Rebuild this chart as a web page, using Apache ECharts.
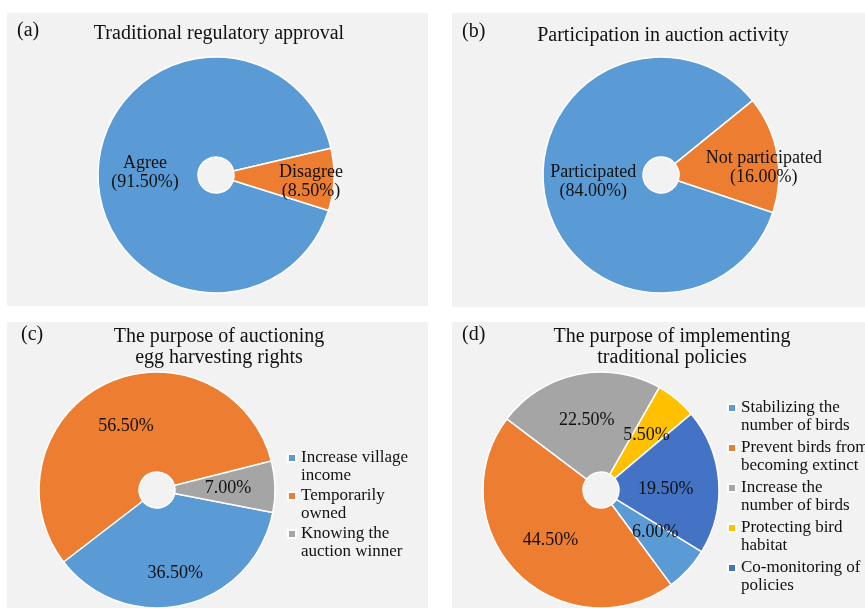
<!DOCTYPE html>
<html>
<head>
<meta charset="utf-8">
<script src="https://cdn.jsdelivr.net/npm/echarts@6/dist/echarts.min.js"></script>
<style>
  html, body { margin: 0; padding: 0; background: #fff; }
  #chart { width: 865px; height: 608px; }
</style>
</head>
<body>
<div id="chart"></div>
<script>
// (a) Traditional regulatory approval
var approvalNames = ['Agree', 'Disagree'];
var approvalValues = [91.5, 8.5];
// (b) Participation in auction activity
var auctionNames = ['Participated', 'Not participated'];
var auctionValues = [84.0, 16.0];
// (c) The purpose of auctioning egg harvesting rights
var rightsNames = ['Increase village\nincome', 'Temporarily\nowned', 'Knowing the\nauction winner'];
var rightsValues = [36.5, 56.5, 7.0];
// (d) The purpose of implementing traditional policies
var policyNames = ['Stabilizing the\nnumber of birds', 'Prevent birds from\nbecoming extinct',
    'Increase the\nnumber of birds', 'Protecting bird\nhabitat', 'Co-monitoring of\npolicies'];
var policyValues = [6.0, 44.5, 22.5, 5.5, 19.5];

var colors2 = ['#5B9BD5', '#ED7D31'];
var colors3 = ['#5B9BD5', '#ED7D31', '#A5A5A5'];
var colors5 = ['#5B9BD5', '#ED7D31', '#A5A5A5', '#FFC000', '#4472C4'];

var FONT = '"Liberation Serif", "Times New Roman", serif';
var INK = '#111';

function toData(names, values, colors) {
    var out = [];
    for (var i = 0; i < names.length; i++) {
        out.push({ name: names[i], value: values[i], itemStyle: { color: colors[i] } });
    }
    return out;
}

function nameAndPct(p) { return p.name + '\n(' + p.value.toFixed(2) + '%)'; }
function pctOnly(p) { return p.value.toFixed(2) + '%'; }

// small nudges so labels sit where the original put them
function nudge(offsets) {
    return function (p) {
        var o = offsets[p.dataIndex];
        return o ? { dx: o[0], dy: o[1] } : {};
    };
}

function pie(center, startAngle, data, formatter, offsets) {
    return {
        type: 'pie',
        center: center,
        radius: [18, 118],
        startAngle: startAngle,
        clockwise: true,
        avoidLabelOverlap: false,
        silent: true,
        data: data,
        itemStyle: { borderColor: '#fff', borderWidth: 1.5 },
        label: {
            show: true,
            position: 'inside',
            formatter: formatter,
            fontFamily: FONT,
            fontSize: 18,
            lineHeight: 19,
            color: INK,
            align: 'center'
        },
        labelLine: { show: false },
        labelLayout: nudge(offsets || {})
    };
}

function panelTitle(text, x, y) {
    return {
        text: text, left: x, top: y, padding: 0, textAlign: 'center',
        textStyle: { fontFamily: FONT, fontSize: 20, fontWeight: 'normal', color: INK, lineHeight: 21 }
    };
}
function panelTag(text, x, y) {
    return {
        text: text, left: x, top: y, padding: 0,
        textStyle: { fontFamily: FONT, fontSize: 20, fontWeight: 'normal', color: INK }
    };
}

// legend text is centred on the swatch, so a leading blank line
// puts the swatch level with the first line of each entry
function legendAt(x, y, names, gap) {
    return {
        orient: 'vertical', left: x, top: y, padding: 0,
        itemWidth: 8, itemHeight: 8, itemGap: gap, icon: 'rect',
        selectedMode: false,
        data: names,
        formatter: function (name) { return '\n' + name; },
        textStyle: { fontFamily: FONT, fontSize: 17, color: INK, lineHeight: 18 }
    };
}

var chart = echarts.init(document.getElementById('chart'));
chart.setOption({
    animation: false,
    backgroundColor: '#fff',
    graphic: [
        { type: 'rect', shape: { x: 7, y: 13, width: 421, height: 293 }, style: { fill: '#F2F2F2' }, z: -10 },
        { type: 'rect', shape: { x: 452, y: 13, width: 413, height: 294 }, style: { fill: '#F2F2F2' }, z: -10 },
        { type: 'rect', shape: { x: 7, y: 322, width: 421, height: 286 }, style: { fill: '#F2F2F2' }, z: -10 },
        { type: 'rect', shape: { x: 452, y: 322, width: 413, height: 286 }, style: { fill: '#F2F2F2' }, z: -10 }
    ],
    title: [
        panelTag('(a)', 17, 21),
        panelTitle('Traditional regulatory approval', 219, 23),
        panelTag('(b)', 462, 22),
        panelTitle('Participation in auction activity', 663, 25),
        panelTag('(c)', 21, 325),
        panelTitle('The purpose of auctioning\negg harvesting rights', 219, 326),
        panelTag('(d)', 462, 325),
        panelTitle('The purpose of implementing\ntraditional policies', 672, 326)
    ],
    legend: [
        legendAt(287, 431, rightsNames, -16),
        legendAt(727, 381, policyNames, -14)
    ],
    series: [
        pie([216, 175], -17.5, toData(approvalNames, approvalValues, colors2), nameAndPct, { 1: [24, 4] }),
        pie([661, 175], -18.5, toData(auctionNames, auctionValues, colors2), nameAndPct, { 0: [2, -6], 1: [33, 5] }),
        pie([157, 490], -11, toData(rightsNames, rightsValues, colors3), pctOnly, { 0: [2, 14] }),
        pie([601, 490], -31.5, toData(policyNames, policyValues, colors5), pctOnly, { 0: [2, -6], 4: [-6, 5] })
    ]
});
</script>
</body>
</html>
